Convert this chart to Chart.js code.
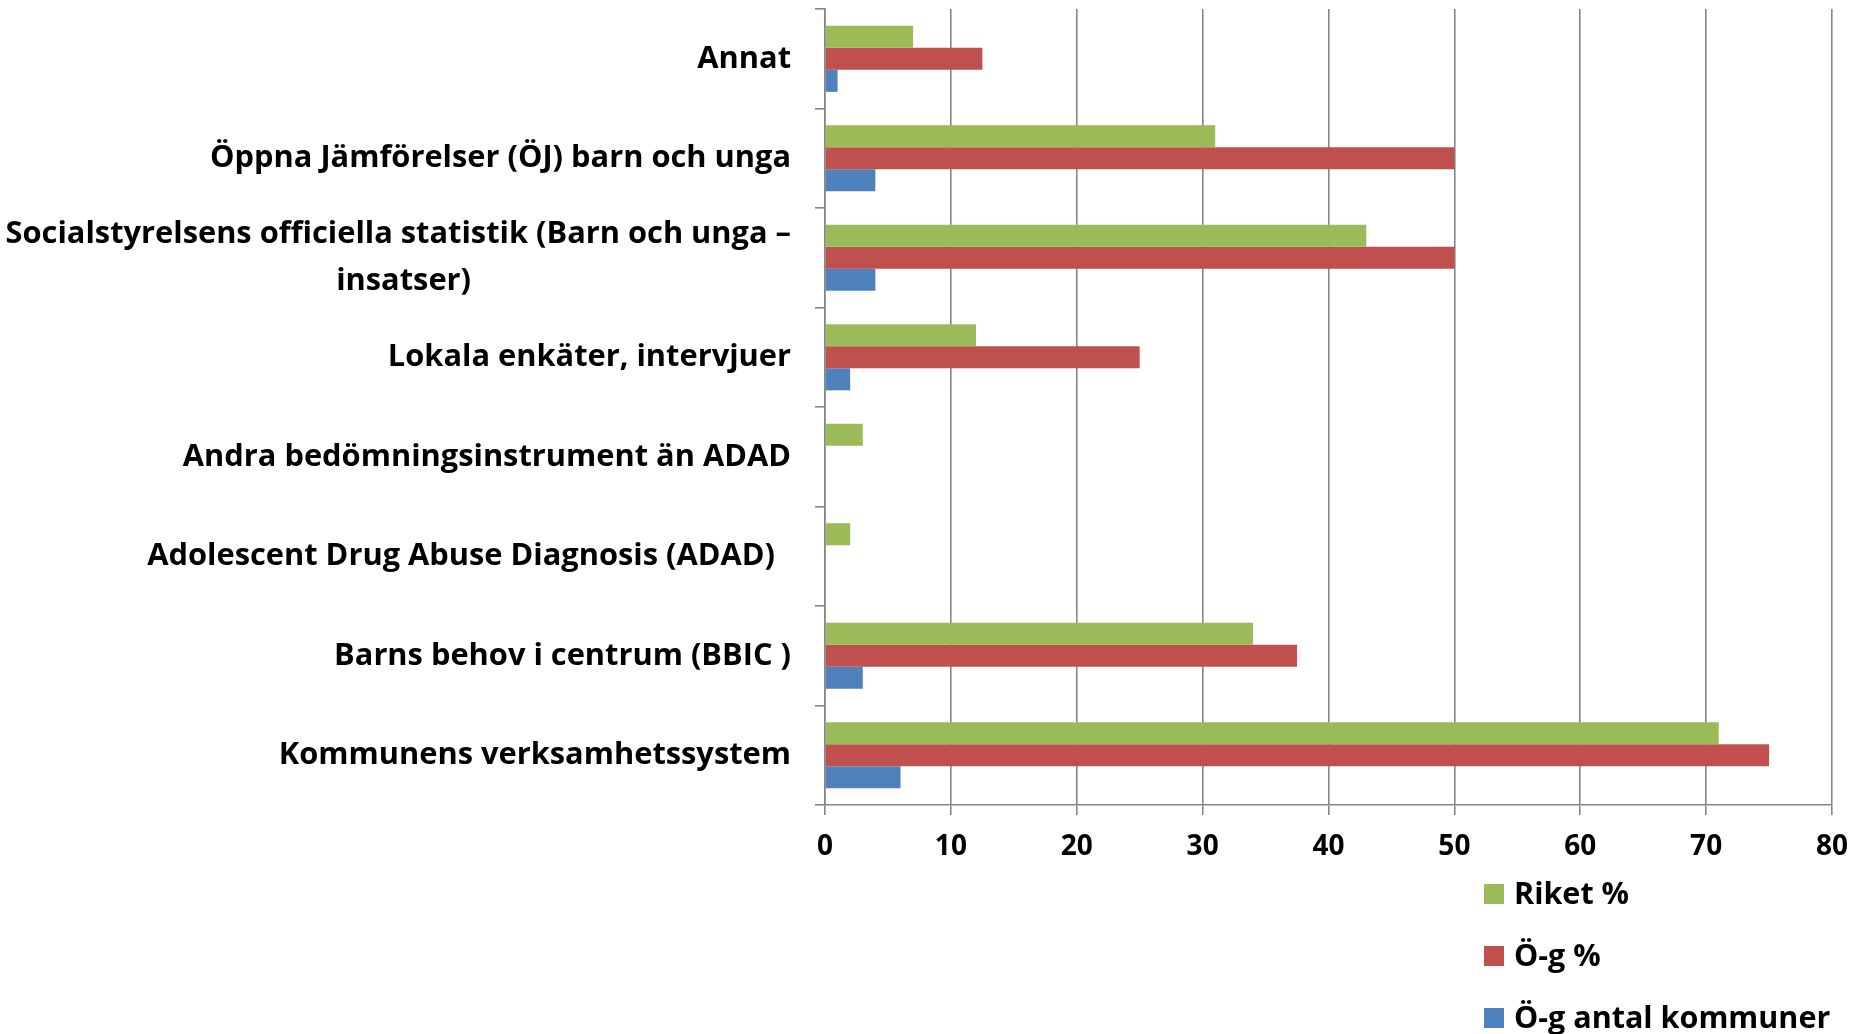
<!DOCTYPE html>
<html>
<head>
<meta charset="utf-8">
<script src="https://cdn.jsdelivr.net/npm/chart.js@4/dist/chart.umd.min.js"></script>
<style>
  body { margin: 0; background: #fff; }
  #wrap { width: 1864px; height: 1034px; }
</style>
</head>
<body>
<div id="wrap"><canvas id="chart" width="1864" height="1034"></canvas></div>
<script>
// Categories, top to bottom
var categories = [
  'Annat',
  'Öppna Jämförelser (ÖJ) barn och unga',
  ['Socialstyrelsens officiella statistik (Barn och unga –', 'insatser)'],
  'Lokala enkäter, intervjuer',
  'Andra bedömningsinstrument än ADAD',
  'Adolescent Drug Abuse Diagnosis (ADAD)  ',
  'Barns behov i centrum (BBIC )',
  'Kommunens verksamhetssystem'
];

// Series values
var riketPct = [7, 31, 43, 12, 3, 2, 34, 71];
var ogPct = [12.5, 50, 50, 25, 0, 0, 37.5, 75];
var ogAntal = [1, 4, 4, 2, 0, 0, 3, 6];

var seriesNames = ['Riket %', 'Ö-g %', 'Ö-g antal kommuner'];
var xTicks = [0, 10, 20, 30, 40, 50, 60, 70, 80];

var FONT = '"Open Sans", Lato, sans-serif';
var LABEL_SIZE = 30.8;
var gridGray = '#868686';

// center the second line of a two-line label under the first one
var measureCtx = document.createElement('canvas').getContext('2d');
measureCtx.font = 'bold ' + LABEL_SIZE + 'px ' + FONT;
function padLabel(lbl) {
  if (!Array.isArray(lbl)) return lbl;
  var w0 = measureCtx.measureText(lbl[0]).width;
  var out = [lbl[0]];
  for (var i = 1; i < lbl.length; i++) {
    var s = lbl[i];
    var target = (w0 - measureCtx.measureText(s).width) / 2;
    while (measureCtx.measureText(s + ' ').width - measureCtx.measureText(lbl[i]).width <= target) {
      s += ' ';
    }
    out.push(s);
  }
  return out;
}

// vertical legend under the x axis, right side
var sideLegend = {
  id: 'sideLegend',
  afterDraw: function(chart) {
    var ctx = chart.ctx;
    ctx.save();
    ctx.font = 'bold 30.5px ' + FONT;
    ctx.textBaseline = 'middle';
    ctx.textAlign = 'left';
    chart.data.datasets.forEach(function(ds, i) {
      var y = 894 + i * 62;
      ctx.fillStyle = ds.backgroundColor;
      ctx.fillRect(1484, y - 10, 20, 20);
      ctx.fillStyle = '#000';
      ctx.fillText(ds.label, 1514, y + 1);
    });
    ctx.restore();
  }
};

var ctx = document.getElementById('chart').getContext('2d');
var chart = new Chart(ctx, {
  type: 'bar',
  data: {
    labels: categories.map(padLabel),
    datasets: [
      { label: seriesNames[0], data: riketPct, backgroundColor: '#9BBB59' },
      { label: seriesNames[1], data: ogPct, backgroundColor: '#C0504D' },
      { label: seriesNames[2], data: ogAntal, backgroundColor: '#4F81BD' }
    ]
  },
  options: {
    indexAxis: 'y',
    responsive: false,
    animation: false,
    barPercentage: 1,
    categoryPercentage: 0.665,
    layout: { padding: { top: 9, right: 32, bottom: 0, left: 0 } },
    plugins: {
      legend: { display: false },
      tooltip: { enabled: false }
    },
    scales: {
      x: {
        min: 0,
        max: 80,
        afterBuildTicks: function(s) { s.ticks = xTicks.map(function(v) { return { value: v }; }); },
        afterFit: function(s) { s.height = 229; },
        grid: { color: gridGray, lineWidth: 1.6, tickLength: 10 },
        border: { color: gridGray, width: 1.6 },
        ticks: {
          color: '#000',
          padding: 15,
          font: { family: FONT, size: 28, weight: 'bold' }
        }
      },
      y: {
        afterFit: function(s) {
          s.width = 825;
          s.paddingTop = 0;
          s.paddingBottom = 0;
        },
        grid: { drawOnChartArea: false, offset: true, color: gridGray, lineWidth: 1.6, tickLength: 10 },
        border: { color: gridGray, width: 1.6 },
        ticks: {
          autoSkip: false,
          color: '#000',
          padding: 24,
          font: { family: FONT, size: LABEL_SIZE, weight: 'bold', lineHeight: 1.5 }
        }
      }
    }
  },
  plugins: [sideLegend]
});
</script>
</body>
</html>
